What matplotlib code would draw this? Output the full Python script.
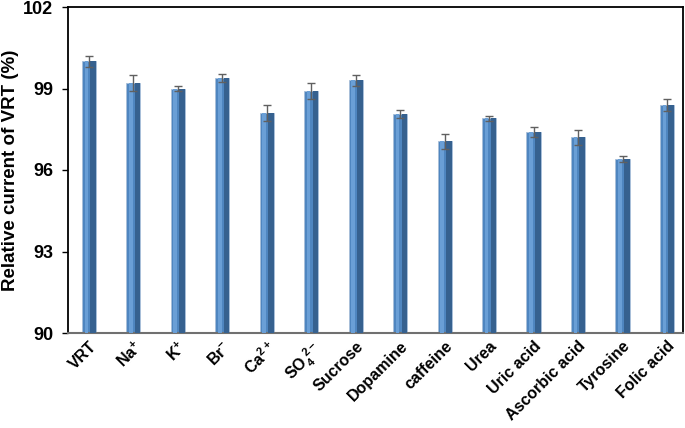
import matplotlib
matplotlib.use('Agg')
import matplotlib.pyplot as plt
import numpy as np

plt.rcParams['font.family'] = ['Liberation Sans', 'DejaVu Sans']
plt.rcParams['font.weight'] = 'bold'
plt.rcParams['mathtext.fontset'] = 'custom'
plt.rcParams['mathtext.rm'] = 'Liberation Sans:bold'
plt.rcParams['mathtext.default'] = 'rm'

labels = ['VRT', 'Na$^{+}$', 'K$^{+}$', 'Br$^{-}$', 'Ca$^{2+}$', 'SO$_4^{\\ 2-}$',
          'Sucrose', 'Dopamine', 'caffeine', 'Urea', 'Uric acid',
          'Ascorbic acid', 'Tyrosine', 'Folic acid']
values = [100.0, 99.2, 99.0, 99.4, 98.1, 98.9, 99.3, 98.05, 97.05, 97.9,
          97.4, 97.2, 96.4, 98.4]
errors = [0.2, 0.3, 0.1, 0.15, 0.3, 0.3, 0.2, 0.15, 0.27, 0.08, 0.2, 0.27,
          0.12, 0.23]

fig = plt.figure(figsize=(6.85, 4.28), dpi=100)
ax = fig.add_axes([68 / 685, 1 - 333 / 428, 615 / 685, 326 / 428])

x = np.arange(len(labels))
w = 0.32
base = 90
heights = np.array(values) - base
# main bar, lighter left face and darker right face for a 3D look
ax.bar(x, heights, w, bottom=base, color='#4f86c0', edgecolor='#a9bfd8',
       linewidth=0.6, zorder=2)
ax.bar(x - w * 0.18, heights, w * 0.25, bottom=base, color='#6a9fd6',
       linewidth=0, zorder=3)
ax.bar(x + w * 0.3, heights, w * 0.4, bottom=base, color='#36618f',
       linewidth=0, zorder=3)
ax.errorbar(x, values, yerr=errors, fmt='none', ecolor='#606060',
            elinewidth=1, capsize=3, capthick=1, zorder=4)

ax.set_ylim(90, 102)
ax.set_xlim(-0.47, 13.36)
ax.set_yticks([90, 93, 96, 99, 102])
ax.tick_params(axis='y', direction='out', length=4.5, width=1, labelsize=13,
               pad=6)
ax.tick_params(axis='x', length=0, labelsize=11.5, pad=4)
ax.set_xticks(x)
ax.set_xticklabels(labels, rotation=45, ha='right', rotation_mode='anchor')
for t in ax.get_xticklabels() + ax.get_yticklabels():
    t.set_fontweight('bold')
ax.set_ylabel('Relative current of VRT (%)', fontsize=13.5, fontweight='bold',
              labelpad=3)
for s in ['top', 'right', 'left']:
    ax.spines[s].set_linewidth(1.3)
    ax.spines[s].set_color('black')
ax.spines['bottom'].set_linewidth(1.5)
ax.spines['bottom'].set_color('#707070')

fig.savefig('out.png', dpi=100)
